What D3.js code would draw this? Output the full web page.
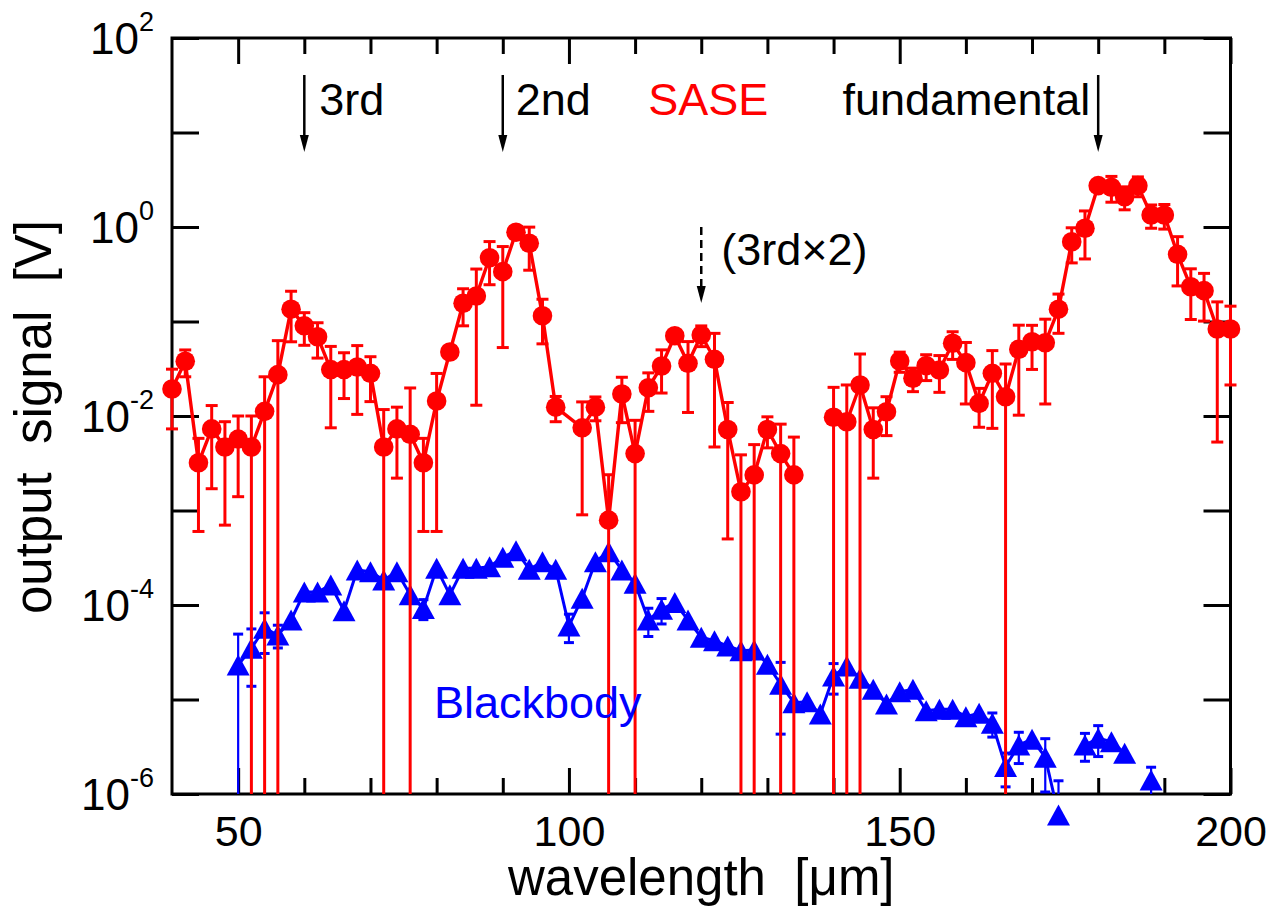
<!DOCTYPE html>
<html><head><meta charset="utf-8">
<script src="https://cdn.jsdelivr.net/npm/d3@7"></script>
<style>
body{margin:0;background:#fff;}
svg{display:block;font-family:"Liberation Sans",Arial,Helvetica,sans-serif;}
</style></head><body>
<svg id="c" width="1273" height="906"></svg>
<script>
// ---------- data ----------
const sase_wl = [40,42,44,46,48,50,52,54,56,58,60,62,64,66,68,70,72,74,76,78,80,82,84,86,88,90,92,94,96,98,102,104,106,108,110,112,114,116,118,120,122,124,126,128,130,132,134,136,138,140,142,144,146,148,150,152,154,156,158,160,162,164,166,168,170,172,174,176,178,180,182,184,186,188,190,192,194,196,198,200];
const sase_val = [0.0193,0.038,0.0032,0.0073,0.0047,0.0057,0.0047,0.0112,0.0274,0.135,0.090,0.069,0.031,0.031,0.033,0.0283,0.0047,0.0073,0.0064,0.0032,0.0144,0.0476,0.156,0.186,0.473,0.337,0.879,0.673,0.115,0.0124,0.0075,0.0124,0.00079,0.0171,0.0040,0.0199,0.0338,0.0707,0.0361,0.072,0.0398,0.0072,0.00158,0.00238,0.0072,0.0040,0.00238,null,null,0.0097,0.0087,0.0213,0.0072,0.0111,0.0382,0.0251,0.0341,0.0307,0.0588,0.0367,0.0136,0.0283,0.016,0.0508,0.0611,0.0596,0.135,0.699,0.969,2.74,2.63,2.09,2.74,1.34,1.34,0.514,0.233,0.212,0.0833,0.0833];
const sase_err = [0.012,0.012,0.0026,0.0056,0.004,0.0043,0.0053,0.0148,0.0353,0.074,0.034,0.028,0.0235,0.0157,0.0226,0.0141,0.007,0.0051,0.0134,0.0026,0.0138,0.004,0.066,0.173,0.228,0.284,0.06,0.324,0.057,0.0037,0.0066,0.0035,0.0016,0.0086,0.005,0.0087,0.0163,0.005,0.0252,0.0178,0.0351,0.0067,0.0023,0.0026,0.0026,0.0042,0.0036,null,null,0.0104,0.0126,0.024,0.005,0.0049,0.0092,0.007,0.0104,0.0129,0.0191,0.0233,0.006,0.0209,0.0195,0.0406,0.030,0.0462,0.060,0.282,0.51,0.2,0.8,0.57,0.65,0.37,0.39,0.276,0.128,0.111,0.078,0.062];

const bb_wl = [50,52,54,56,58,60,62,64,66,68,70,72,74,76,78,80,82,84,86,88,90,92,94,96,98,100,102,104,106,108,110,112,114,116,118,120,122,124,126,128,130,132,134,136,138,140,142,144,146,148,150,152,154,156,158,160,162,164,166,168,170,172,174,176,178,180,182,184,186,188];
const bb_val = [2.32e-5,3.48e-5,5.67e-5,4.81e-5,6.94e-5,1.37e-4,1.37e-4,1.63e-4,8.7e-5,2.35e-4,2.25e-4,1.84e-4,2.25e-4,1.28e-4,9.2e-5,2.45e-4,1.28e-4,2.45e-4,2.45e-4,2.54e-4,3.2e-4,3.76e-4,2.39e-4,2.87e-4,2.39e-4,6.0e-5,1.18e-4,2.87e-4,3.67e-4,2.35e-4,1.70e-4,6.94e-5,9.0e-5,1.06e-4,6.94e-5,4.55e-5,4.19e-5,3.68e-5,3.28e-5,3.34e-5,2.36e-5,1.45e-5,9.25e-6,9.48e-6,7.02e-6,1.77e-5,2.26e-5,1.68e-5,1.28e-5,8.96e-6,1.21e-5,1.28e-5,7.61e-6,7.87e-6,7.87e-6,6.58e-6,7.14e-6,5.60e-6,1.95e-6,3.30e-6,3.79e-6,2.45e-6,6.0e-7,null,3.30e-6,3.89e-6,3.58e-6,2.70e-6,null,1.41e-6];
const bb_err = [2.6e-5,2.1e-5,2.6e-5,1.3e-5,0,0,0,0,0,0,0,0,0,0,2.2e-5,0,0,0,0,0,0,0,0,0,0,2.0e-5,0,0,0,0,0,2.3e-5,2.7e-5,0,0,0,0,0,0,0,0,1.02e-5,0,0,0,6.3e-6,0,0,0,0,0,0,0,0,0,0,0,1.6e-6,7.6e-7,1.2e-6,0,1.4e-6,7.8e-7,null,1.08e-6,1.4e-6,0,0,null,5.1e-7];

const x_major = [50,100,150,200];
const x_minor = [60,70,80,90,110,120,130,140,160,170,180,190];
const y_ticks = [1e-6,1e-5,1e-4,1e-3,1e-2,1e-1,1,10,100];
const y_label_exp = [2,0,-2,-4,-6];

const harmonic_wl = [60,90,180];
const harmonic_txt = ["3rd","2nd","fundamental"];
const dashed_wl = [120];

// ---------- layout ----------
const svg = d3.select("#c");
const L=172, R=1230.5, T=38, B=794;
const x = d3.scaleLinear().domain([40,200]).range([L,R]);
const y = d3.scaleLog().domain([1e-6,1e2]).range([B,T]);
const RED="#ff0000", BLUE="#0000ff";
const FONT = '"Liberation Sans",Arial,Helvetica,sans-serif';

svg.append("defs").append("clipPath").attr("id","clip")
  .append("rect").attr("x",0).attr("y",T).attr("width",1273).attr("height",B-T);

// ---------- axes ----------
function styleAxis(g){
  g.select(".domain").remove();
  g.selectAll(".tick line").attr("stroke","#000").attr("stroke-width",3);
  g.selectAll("text").attr("font-size",43).attr("font-family",FONT).attr("fill","#000");
}
svg.append("g").attr("transform",`translate(0,${B})`)
  .call(d3.axisBottom(x).tickValues(x_major).tickSize(-26).tickPadding(21).tickFormat(d3.format("d"))).call(styleAxis);
svg.append("g").attr("transform",`translate(0,${B})`)
  .call(d3.axisBottom(x).tickValues(x_minor).tickSize(-16).tickFormat("")).call(styleAxis);
svg.append("g").attr("transform",`translate(0,${T})`)
  .call(d3.axisTop(x).tickValues(x_major).tickSize(-26).tickFormat("")).call(styleAxis);
svg.append("g").attr("transform",`translate(0,${T})`)
  .call(d3.axisTop(x).tickValues(x_minor).tickSize(-16).tickFormat("")).call(styleAxis);
svg.append("g").attr("transform",`translate(${L},0)`)
  .call(d3.axisLeft(y).tickValues(y_ticks).tickSize(-27).tickFormat("")).call(styleAxis);
svg.append("g").attr("transform",`translate(${R},0)`)
  .call(d3.axisRight(y).tickValues(y_ticks).tickSize(-27).tickFormat("")).call(styleAxis);
svg.append("rect").attr("x",L).attr("y",T).attr("width",R-L).attr("height",B-T)
  .attr("fill","none").attr("stroke","#000").attr("stroke-width",3);

// y tick labels with superscripts
svg.append("g").selectAll("text").data(y_label_exp).join("text")
  .attr("x",154).attr("y",d=>y(Math.pow(10,d))).attr("dy","0.36em")
  .attr("text-anchor","end").attr("font-size",44).attr("font-family",FONT)
  .each(function(d){
    const t=d3.select(this);
    t.append("tspan").text("10");
    t.append("tspan").attr("font-size",27).attr("dy",-23).text(String(d));
  });

// axis titles
svg.append("text").attr("x",(L+R)/2).attr("y",895).attr("text-anchor","middle")
  .attr("font-size",51).attr("font-family",FONT).text("wavelength\u00A0\u00A0[\u03BCm]");
svg.append("text").attr("transform",`translate(51,${(T+B)/2+1}) rotate(-90)`).attr("text-anchor","middle")
  .attr("font-size",51).attr("font-family",FONT).text("output\u00A0\u00A0signal\u00A0\u00A0[V]");

// ---------- series ----------
function series(wl, val, err, color, opts){
  const pts = wl.map((w,i)=>({w, v:val[i], e:err[i]}));
  const g = svg.append("g");
  const cg = g.append("g").attr("clip-path","url(#clip)");
  const eb = pts.filter(p=>p.v!=null && p.e>0);
  const ylo = p => (p.v-p.e) > 1e-6 ? y(p.v-p.e) : B;
  cg.selectAll("line.eb").data(eb).join("line")
    .attr("x1",p=>x(p.w)).attr("x2",p=>x(p.w))
    .attr("y1",p=>y(p.v+p.e)).attr("y2",ylo)
    .attr("stroke",color).attr("stroke-width",opts.ebw);
  cg.selectAll("line.capt").data(eb).join("line")
    .attr("x1",p=>x(p.w)-opts.cap).attr("x2",p=>x(p.w)+opts.cap)
    .attr("y1",p=>y(p.v+p.e)).attr("y2",p=>y(p.v+p.e))
    .attr("stroke",color).attr("stroke-width",3);
  cg.selectAll("line.capb").data(eb.filter(p=>p.v-p.e>1e-6)).join("line")
    .attr("x1",p=>x(p.w)-opts.cap).attr("x2",p=>x(p.w)+opts.cap)
    .attr("y1",p=>y(p.v-p.e)).attr("y2",p=>y(p.v-p.e))
    .attr("stroke",color).attr("stroke-width",3);
  const line = d3.line().defined(p=>p.v!=null).x(p=>x(p.w)).y(p=>y(p.v));
  cg.append("path").attr("d",line(pts)).attr("fill","none").attr("stroke",color)
    .attr("stroke-width",opts.lw).attr("stroke-linejoin","round");
  const mk = pts.filter(p=>p.v!=null);
  if(opts.shape==="circle"){
    g.selectAll("circle").data(mk).join("circle")
      .attr("cx",p=>x(p.w)).attr("cy",p=>y(p.v)).attr("r",9.8).attr("fill",color);
  } else {
    const hw=11.5, hh=10.5;
    g.selectAll("path.tri").data(mk).join("path")
      .attr("d",p=>{const cx=x(p.w), cy=y(p.v);
        return `M${cx},${cy-hh}L${cx+hw},${cy+hh}L${cx-hw},${cy+hh}Z`;})
      .attr("fill",color);
  }
}
series(bb_wl, bb_val, bb_err, BLUE, {ebw:2.2, cap:5, shape:"tri", lw:3});
series(sase_wl, sase_val, sase_err, RED, {ebw:3, cap:6, shape:"circle", lw:3.4});

// ---------- annotations ----------
const ann = svg.append("g").attr("font-family",FONT).attr("font-size",45);
function arrow(xp, y0, y1, dashed){
  ann.append("line").attr("x1",xp).attr("x2",xp).attr("y1",y0).attr("y2",y1-14)
    .attr("stroke","#000").attr("stroke-width",2.5).attr("stroke-dasharray",dashed?"8,5":null);
  ann.append("path").attr("d",`M${xp-4.5},${y1-17}L${xp+4.5},${y1-17}L${xp},${y1}Z`).attr("fill","#000");
}
harmonic_wl.forEach(w=>arrow(x(w),75,152,false));
dashed_wl.forEach(w=>arrow(x(w),y(1),303,true));
ann.append("text").attr("x",x(harmonic_wl[0])+15).attr("y",115).text(harmonic_txt[0]);
ann.append("text").attr("x",x(harmonic_wl[1])+13).attr("y",115).text(harmonic_txt[1]);
ann.append("text").attr("x",x(harmonic_wl[2])-8).attr("y",115).attr("text-anchor","end").text(harmonic_txt[2]);
ann.append("text").attr("x",x(112)).attr("y",115).attr("fill",RED).text("SASE");
ann.append("text").attr("x",x(dashed_wl[0])+20).attr("y",265).text("(3rd\u00D72)");
ann.append("text").attr("x",x(79.6)).attr("y",y(6.3e-6)).attr("fill",BLUE).text("Blackbody");
</script>
</body></html>
